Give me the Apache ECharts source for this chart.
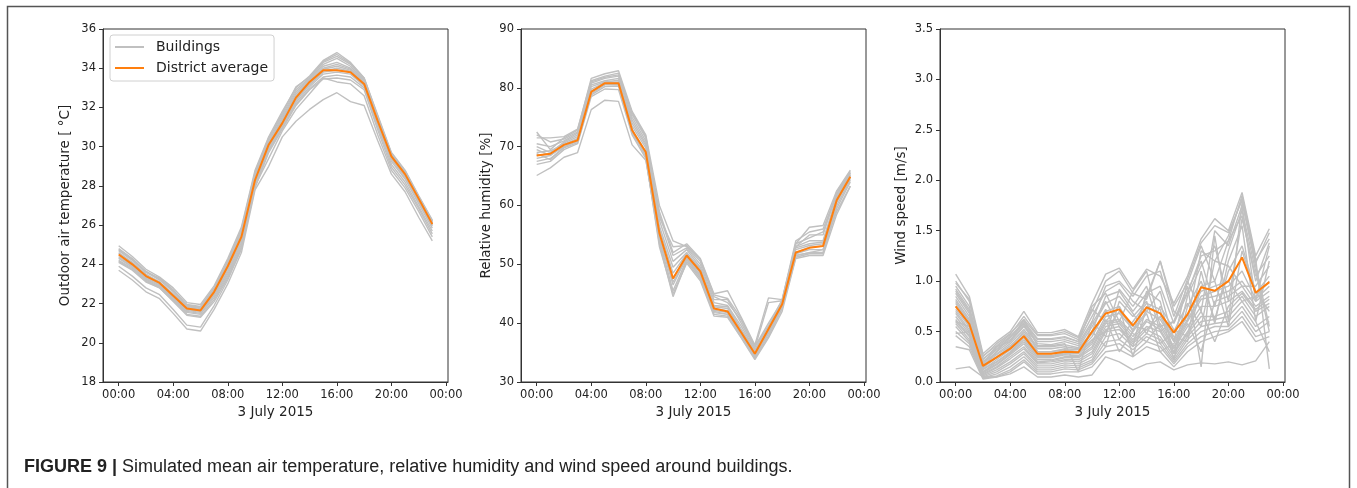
<!DOCTYPE html>
<html>
<head>
<meta charset="utf-8">
<script src="https://cdn.jsdelivr.net/npm/echarts@6/dist/echarts.min.js"></script>
<style>
  html, body { margin: 0; padding: 0; background: #fff; }
  #main { width: 1357px; height: 488px; }
</style>
</head>
<body>
<div id="main"></div>
<script>
// ==============================================================
// data (hourly, 3 July 2015)
// ==============================================================
var hours = [0,1,2,3,4,5,6,7,8,9,10,11,12,13,14,15,16,17,18,19,20,21,22,23];
var xTicks = [0,4,8,12,16,20,24];

// outdoor air temperature [°C]
var tempAvg = [24.5,24.0,23.4,23.05,22.4,21.75,21.65,22.6,23.9,25.4,28.3,30.1,31.2,32.5,33.3,33.9,33.9,33.8,33.2,31.3,29.5,28.6,27.35,26.05];
var tempBuildings = [
  [24.95,24.4,23.75,23.35,22.8,22.05,21.95,22.9,24.3,25.9,28.8,30.5,31.8,33.0,33.6,34.4,34.8,34.3,33.5,31.6,29.7,28.8,27.5,26.25],
  [24.8,24.3,23.65,23.25,22.65,21.95,21.85,22.8,24.15,25.7,28.6,30.4,31.6,32.9,33.5,34.3,34.6,34.2,33.45,31.5,29.65,28.75,27.45,26.2],
  [24.7,24.2,23.6,23.2,22.6,21.9,21.8,22.75,24.05,25.6,28.5,30.3,31.5,32.8,33.45,34.2,34.5,34.1,33.4,31.45,29.6,28.7,27.4,26.15],
  [24.6,24.1,23.5,23.1,22.5,21.85,21.75,22.7,24.0,25.5,28.4,30.2,31.4,32.7,33.4,34.1,34.3,34.0,33.35,31.4,29.55,28.65,27.4,26.1],
  [24.55,24.05,23.45,23.1,22.45,21.8,21.7,22.6,23.9,25.4,28.35,30.15,31.35,32.6,33.35,34.0,34.2,33.95,33.3,31.35,29.5,28.6,27.35,26.1],
  [24.4,23.95,23.35,23.0,22.35,21.7,21.6,22.5,23.8,25.3,28.25,30.05,31.25,32.5,33.3,33.95,34.1,33.9,33.25,31.3,29.45,28.55,27.3,26.05],
  [24.35,23.9,23.3,22.95,22.3,21.65,21.55,22.45,23.7,25.2,28.2,30.0,31.2,32.4,33.2,33.85,34.0,33.85,33.2,31.25,29.4,28.5,27.25,26.0],
  [24.3,23.85,23.25,22.9,22.25,21.6,21.5,22.4,23.6,25.1,28.15,29.95,31.1,32.35,33.15,33.8,33.9,33.8,33.15,31.2,29.35,28.45,27.2,25.95],
  [24.2,23.8,23.2,22.85,22.2,21.55,21.45,22.3,23.5,25.0,28.05,29.85,31.0,32.25,33.05,33.7,33.8,33.7,33.1,31.1,29.25,28.35,27.1,25.85],
  [24.15,23.75,23.15,22.8,22.15,21.45,21.35,22.2,23.4,24.9,28.0,29.8,30.95,32.15,32.95,33.55,33.65,33.55,33.0,31.0,29.1,28.2,26.95,25.7],
  [24.1,23.7,23.1,22.8,22.1,21.4,21.3,22.1,23.3,24.8,27.9,29.7,30.9,32.1,32.9,33.45,33.5,33.4,32.9,30.85,28.95,28.05,26.85,25.55],
  [24.75,24.25,23.6,23.3,22.7,21.9,21.8,22.8,24.2,25.8,28.7,30.45,31.7,33.05,33.55,34.35,34.7,34.25,33.5,31.55,29.65,28.75,27.45,26.2],
  [23.9,23.4,22.8,22.45,21.7,20.9,20.8,21.9,23.2,24.8,28.0,29.4,30.8,31.9,32.7,33.5,33.3,33.2,32.6,30.6,28.8,27.9,26.7,25.4],
  [23.7,23.2,22.6,22.25,21.5,20.7,20.6,21.7,23.0,24.6,27.8,29.0,30.5,31.3,31.9,32.4,32.75,32.3,32.1,30.3,28.6,27.7,26.4,25.2]
];

// relative humidity [%]
var humAvg = [68.5,68.8,70.3,71.1,79.3,80.8,80.8,72.8,69.1,55.3,47.6,51.5,48.8,42.5,42.0,38.4,34.8,39.0,43.2,52.0,52.8,53.1,60.9,64.9];
var humBuildings = [
  [72.5,69.5,71.5,72.8,81.6,82.4,82.9,76.0,72.0,60.0,54.0,53.0,50.5,44.5,43.5,40.5,36.0,39.5,44.0,53.5,56.3,56.6,62.5,66.0],
  [71.5,71.5,71.7,73.0,81.2,82.0,82.5,75.5,71.5,59.0,52.0,53.5,51.0,45.0,45.5,41.0,36.3,44.3,44.0,54.0,55.5,56.0,62.0,65.8],
  [70.5,70.0,71.0,72.3,80.8,81.6,82.0,75.0,71.0,58.5,51.5,52.8,50.0,44.0,44.0,40.0,35.8,43.5,43.8,53.5,54.5,55.5,61.8,65.5],
  [70.0,69.0,70.8,72.0,80.5,81.2,81.6,74.5,70.5,57.5,50.5,52.5,49.5,43.5,43.0,39.5,35.5,39.5,43.5,53.0,54.0,54.0,61.5,65.3],
  [69.5,68.5,70.6,71.7,80.2,81.0,81.3,74.0,70.2,56.5,49.5,52.0,49.2,43.0,42.8,39.0,35.3,39.0,43.2,52.8,53.5,53.8,61.2,65.2],
  [69.0,69.3,70.4,71.4,79.8,80.9,81.0,73.5,69.8,56.0,48.5,51.8,49.0,42.8,42.5,38.8,35.0,38.8,43.0,52.5,53.2,53.5,61.0,65.0],
  [68.5,68.8,70.3,71.1,79.3,80.8,80.8,72.8,69.1,55.3,47.6,51.5,48.5,42.5,42.1,38.3,34.6,39.0,43.4,52.0,52.9,53.1,60.9,64.9],
  [68.0,68.5,70.0,70.9,79.0,80.5,80.5,72.5,68.8,54.5,46.5,51.2,48.2,42.2,41.8,38.0,34.4,38.5,43.0,51.8,52.5,52.5,60.5,64.6],
  [67.5,68.0,69.8,70.7,78.8,80.2,80.3,72.3,68.5,54.0,45.5,50.8,47.8,41.8,41.5,37.8,34.2,38.2,42.8,51.5,52.0,52.0,60.0,64.3],
  [67.0,67.5,69.5,70.5,78.5,79.8,79.7,72.0,68.0,53.5,44.5,50.5,47.5,41.5,41.2,37.6,34.0,37.8,42.5,51.2,51.8,51.8,59.5,64.0],
  [72.0,70.8,71.3,72.5,81.0,81.8,82.2,75.8,71.8,58.0,53.0,53.2,50.8,44.8,44.2,40.8,36.0,40.0,43.8,53.0,55.0,55.0,62.3,65.6],
  [68.8,67.8,69.9,71.2,79.5,80.6,80.6,73.0,68.3,53.0,45.0,50.2,47.2,41.2,41.0,37.5,33.8,37.5,42.0,51.0,51.5,51.5,58.5,63.3],
  [65.1,66.4,68.2,69.0,76.3,77.9,77.7,70.3,67.7,54.5,47.0,51.0,48.0,42.0,41.5,38.0,34.5,38.5,43.0,51.5,52.0,52.5,59.0,63.3]
];

// wind speed [m/s]
var windAvg = [0.75,0.575,0.16,0.245,0.33,0.455,0.28,0.28,0.30,0.295,0.50,0.68,0.72,0.56,0.74,0.68,0.49,0.67,0.94,0.905,1.0,1.235,0.885,0.99];
var windBuildings = [
  [1.07,0.85,0.28,0.40,0.50,0.70,0.49,0.49,0.52,0.45,0.78,1.07,1.13,0.92,1.12,1.05,0.78,1.05,1.42,1.62,1.50,1.88,1.25,1.52],
  [1.00,0.80,0.25,0.38,0.48,0.62,0.46,0.46,0.48,0.42,0.72,0.60,0.75,0.50,0.85,1.20,0.70,0.60,1.30,1.20,1.45,1.82,1.20,1.42],
  [0.95,0.75,0.22,0.35,0.45,0.60,0.43,0.43,0.45,0.40,0.65,0.90,0.98,0.80,0.70,0.90,0.40,1.00,0.70,1.50,1.35,1.75,0.80,1.35],
  [0.90,0.70,0.20,0.32,0.42,0.56,0.40,0.40,0.42,0.38,0.60,0.45,0.92,0.75,0.95,0.50,0.60,0.90,1.20,0.75,1.30,1.70,1.10,0.50],
  [0.88,0.68,0.18,0.30,0.40,0.55,0.38,0.37,0.40,0.36,0.58,0.80,0.55,0.35,0.90,0.80,0.28,0.85,1.15,1.35,0.80,1.62,1.05,1.25],
  [0.85,0.65,0.20,0.28,0.38,0.52,0.35,0.35,0.37,0.34,0.55,0.78,0.85,0.68,0.48,0.75,0.52,0.45,1.10,0.58,1.20,1.55,0.60,1.20],
  [0.82,0.62,0.15,0.25,0.35,0.50,0.33,0.33,0.35,0.33,0.50,0.35,0.80,0.65,0.80,0.38,0.50,0.78,0.55,1.20,1.15,0.95,0.95,1.15],
  [0.80,0.60,0.17,0.27,0.36,0.48,0.30,0.30,0.33,0.32,0.48,0.72,0.42,0.60,0.78,0.72,0.22,0.75,1.00,0.62,1.10,1.35,0.90,0.70],
  [0.78,0.58,0.14,0.24,0.34,0.46,0.28,0.28,0.31,0.30,0.45,0.70,0.75,0.25,0.75,0.68,0.45,0.40,0.95,1.00,0.55,1.30,0.88,1.05],
  [0.75,0.57,0.12,0.22,0.32,0.45,0.26,0.26,0.29,0.29,0.42,0.50,0.70,0.55,0.52,0.65,0.42,0.66,0.90,0.95,1.00,0.80,0.85,1.00],
  [0.72,0.55,0.13,0.20,0.30,0.44,0.25,0.25,0.28,0.28,0.40,0.65,0.68,0.52,0.70,0.62,0.40,0.62,0.85,0.90,0.95,1.10,0.82,0.95],
  [0.70,0.52,0.10,0.20,0.29,0.42,0.24,0.24,0.27,0.26,0.38,0.62,0.30,0.50,0.68,0.30,0.38,0.60,0.82,0.85,0.90,1.00,0.80,0.90],
  [0.68,0.50,0.10,0.18,0.28,0.40,0.22,0.22,0.25,0.25,0.35,0.60,0.62,0.48,0.40,0.58,0.35,0.58,0.30,0.80,0.85,0.95,0.75,0.85],
  [0.65,0.48,0.09,0.17,0.27,0.38,0.20,0.21,0.24,0.24,0.33,0.58,0.60,0.45,0.62,0.55,0.33,0.55,0.75,0.75,0.80,0.90,0.72,0.82],
  [0.62,0.46,0.08,0.15,0.25,0.35,0.19,0.20,0.22,0.22,0.30,0.55,0.58,0.42,0.60,0.52,0.30,0.50,0.70,0.40,0.75,0.88,0.70,0.78],
  [0.60,0.45,0.07,0.14,0.23,0.33,0.18,0.18,0.21,0.20,0.28,0.52,0.55,0.40,0.55,0.50,0.28,0.48,0.65,0.65,0.70,0.85,0.65,0.75],
  [0.58,0.42,0.06,0.12,0.20,0.30,0.16,0.16,0.19,0.18,0.25,0.50,0.52,0.38,0.52,0.45,0.25,0.45,0.60,0.62,0.65,0.80,0.60,0.30],
  [0.55,0.40,0.05,0.10,0.18,0.28,0.14,0.14,0.17,0.16,0.22,0.45,0.48,0.35,0.48,0.42,0.22,0.42,0.55,0.58,0.60,0.75,0.55,0.65],
  [0.50,0.38,0.04,0.08,0.15,0.25,0.12,0.12,0.15,0.14,0.20,0.40,0.42,0.32,0.45,0.38,0.20,0.38,0.50,0.55,0.55,0.70,0.50,0.60],
  [0.46,0.35,0.04,0.06,0.12,0.22,0.10,0.10,0.13,0.12,0.18,0.35,0.38,0.28,0.40,0.35,0.18,0.35,0.45,0.50,0.52,0.65,0.45,0.50],
  [0.35,0.32,0.03,0.05,0.10,0.20,0.08,0.08,0.10,0.10,0.15,0.30,0.32,0.25,0.35,0.30,0.15,0.30,0.40,0.45,0.50,0.60,0.40,0.45],
  [0.13,0.15,0.05,0.05,0.08,0.15,0.05,0.05,0.07,0.05,0.07,0.25,0.20,0.12,0.18,0.20,0.12,0.17,0.19,0.18,0.20,0.17,0.21,0.40],
  [0.98,0.82,0.26,0.36,0.47,0.65,0.47,0.47,0.50,0.44,0.70,1.00,1.10,0.88,0.82,1.20,0.75,0.98,1.35,1.00,1.40,1.85,1.22,0.13],
  [0.92,0.72,0.23,0.33,0.44,0.58,0.42,0.42,0.44,0.40,0.75,0.88,0.60,0.90,1.10,0.55,0.60,0.95,0.15,1.45,0.60,1.78,1.15,0.55],
  [0.60,0.55,0.18,0.35,0.40,0.62,0.36,0.36,0.38,0.10,0.60,0.95,1.00,0.85,1.05,1.10,0.65,1.02,1.38,1.55,1.48,1.80,1.18,1.48],
  [0.48,0.50,0.15,0.30,0.45,0.58,0.30,0.30,0.32,0.30,0.50,0.85,0.90,0.70,0.88,0.95,0.58,0.88,1.25,1.30,1.40,1.65,1.00,1.38]
];

var yNames = ['Outdoor air temperature [ \u00b0C]', 'Relative humidity [%]', 'Wind speed [m/s]'];
var yRanges = [[18, 36, 2], [30, 90, 10], [0, 3.5, 0.5]];

// ==============================================================
// chart
// ==============================================================
var FONT = 'DejaVu Sans';
var GRAY = '#c0c0c0';
var ORANGE = '#ff7f0e';
var AXIS = '#333';

var dom = document.getElementById('main');
var myChart = echarts.init(dom);

var gridLefts = [103, 521, 940];
var nameGaps = [31, 28, 32];

function xAxisFor(gi) {
    return {
        type: 'value', gridIndex: gi, min: -1.15, max: 24.15,
        name: '3 July 2015', nameLocation: 'middle', nameGap: 22,
        nameTextStyle: { fontFamily: FONT, fontSize: 13.5, color: '#222' },
        axisLine: { onZero: false, lineStyle: { color: AXIS, width: 1 } },
        axisTick: { customValues: xTicks, length: 4, lineStyle: { color: AXIS } },
        axisLabel: {
            customValues: xTicks, margin: 7, fontFamily: FONT, fontSize: 11.5, color: '#222',
            formatter: function (v) { var h = v % 24; return (h < 10 ? '0' + h : h) + ':00'; }
        },
        splitLine: { show: false }
    };
}

function yAxisFor(gi) {
    var r = yRanges[gi];
    return {
        type: 'value', gridIndex: gi, min: r[0], max: r[1], interval: r[2],
        name: yNames[gi], nameLocation: 'middle', nameGap: nameGaps[gi],
        nameTextStyle: { fontFamily: FONT, fontSize: 13.5, color: '#222' },
        axisLine: { show: true, onZero: false, lineStyle: { color: AXIS, width: 1 } },
        axisTick: { show: true, length: 4, lineStyle: { color: AXIS } },
        axisLabel: {
            margin: 7, fontFamily: FONT, fontSize: 11.5, color: '#222',
            formatter: function (v) { return gi === 2 ? v.toFixed(1) : String(v); }
        },
        splitLine: { show: false }
    };
}

function toPoints(arr) {
    return hours.map(function (h, i) { return [h, arr[i]]; });
}

function buildingSeries(list, gi) {
    return list.map(function (arr) {
        return {
            name: 'Buildings', type: 'line', xAxisIndex: gi, yAxisIndex: gi,
            data: toPoints(arr), symbol: 'none', silent: true, z: 2,
            lineStyle: { color: GRAY, width: 1.4 }, itemStyle: { color: GRAY }
        };
    });
}

function avgSeries(arr, gi) {
    return {
        name: 'District average', type: 'line', xAxisIndex: gi, yAxisIndex: gi,
        data: toPoints(arr), symbol: 'none', silent: true, z: 3,
        lineStyle: { color: ORANGE, width: 2 }, itemStyle: { color: ORANGE }
    };
}

var series = []
    .concat(buildingSeries(tempBuildings, 0))
    .concat(buildingSeries(humBuildings, 1))
    .concat(buildingSeries(windBuildings, 2))
    .concat([avgSeries(tempAvg, 0), avgSeries(humAvg, 1), avgSeries(windAvg, 2)]);

var option = {
    animation: false,
    backgroundColor: '#fff',
    grid: gridLefts.map(function (l) {
        return { left: l, top: 29, width: 345, height: 353, show: true,
                 borderColor: AXIS, borderWidth: 1, backgroundColor: 'transparent' };
    }),
    xAxis: [xAxisFor(0), xAxisFor(1), xAxisFor(2)],
    yAxis: [yAxisFor(0), yAxisFor(1), yAxisFor(2)],
    legend: {
        data: ['Buildings', 'District average'],
        orient: 'vertical', left: 110, top: 35,
        itemWidth: 29, itemHeight: 14, itemGap: 7,
        padding: [5, 6, 6, 4],
        selectedMode: false,
        itemStyle: { color: 'transparent', borderWidth: 0, opacity: 0 },
        borderColor: '#d0d0d0', borderWidth: 1, borderRadius: 3,
        backgroundColor: 'rgba(255,255,255,0.85)',
        textStyle: { fontFamily: FONT, fontSize: 14, color: '#222', padding: [0, 0, 0, 7] }
    },
    graphic: [
        {
            type: 'rect', silent: true,
            shape: { x: 7.5, y: 6.5, width: 1342, height: 600 },
            style: { fill: 'none', stroke: '#555', lineWidth: 1.5 }
        },
        {
            type: 'text', left: 24, top: 458, silent: true,
            style: {
                text: '{b|FIGURE 9 |} Simulated mean air temperature, relative humidity and wind speed around buildings.',
                fontFamily: 'Liberation Sans', fontSize: 18, fill: '#222',
                rich: { b: { fontFamily: 'Liberation Sans', fontSize: 18, fontWeight: 'bold', fill: '#222' } }
            }
        }
    ],
    series: series
};

if (option && typeof option === 'object') {
    myChart.setOption(option, true);
}
</script>
</body>
</html>
